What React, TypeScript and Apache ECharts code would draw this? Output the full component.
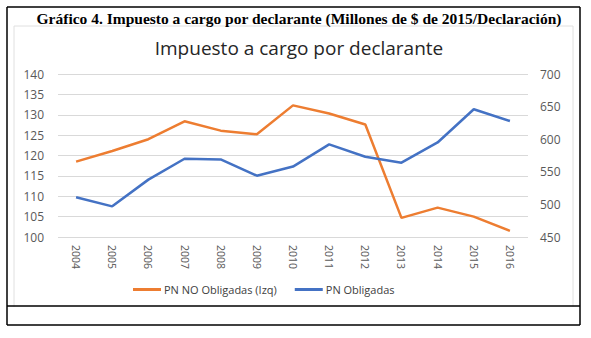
import React, { useEffect, useRef } from "react";
import * as echarts from "echarts";

const years = ["2004","2005","2006","2007","2008","2009","2010","2011","2012","2013","2014","2015","2016"];
const pnNoObligadas = [118.5, 121.1, 124.0, 128.4, 126.1, 125.2, 132.3, 130.3, 127.6, 104.7, 107.2, 105.0, 101.5];
const pnObligadas = [511, 497, 538, 570, 569, 544, 558, 592, 573, 564, 595, 646, 628];
const seriesNames = ["PN NO Obligadas (Izq)", "PN Obligadas"];
const outerTitle = "Gráfico 4. Impuesto a cargo por declarante (Millones de $ de 2015/Declaración)";
const chartTitle = "Impuesto a cargo por declarante";

export default function App() {
  const ref = useRef<HTMLDivElement>(null);
  useEffect(() => {
    const chart = echarts.init(ref.current!, null, { renderer: "svg" });
    const black = { stroke: "#000", lineWidth: 1.5 };
    chart.setOption({
      animation: false,
      backgroundColor: "#fff",
      title: [
        {
          text: outerTitle,
          left: 294,
          textAlign: "center",
          top: 5,
          textStyle: { fontFamily: "Liberation Serif", fontWeight: "bold", fontSize: 15.5, color: "#000" },
        },
        {
          text: chartTitle,
          left: 294,
          textAlign: "center",
          top: 33,
          textStyle: { fontFamily: "Open Sans", fontWeight: "normal", fontSize: 19, color: "#262626" },
        },
      ],
      graphic: [
        { type: "rect", shape: { x: 14, y: 26, width: 559, height: 290 }, style: { fill: "none", stroke: "#e0e0e0", lineWidth: 1 }, silent: true },
        { type: "line", shape: { x1: 7, y1: 7, x2: 580, y2: 7 }, style: black },
        { type: "line", shape: { x1: 7, y1: 7, x2: 7, y2: 325 }, style: black },
        { type: "line", shape: { x1: 580, y1: 7, x2: 580, y2: 325 }, style: black },
        { type: "line", shape: { x1: 7, y1: 306, x2: 580, y2: 306 }, style: black },
        { type: "line", shape: { x1: 7, y1: 325, x2: 580, y2: 325 }, style: black },
        { type: "rect", shape: { x: 8, y: 307, width: 571, height: 17 }, style: { fill: "#fff" } },
      ],
      legend: {
        top: 279,
        left: 128,
        itemWidth: 28,
        itemHeight: 3,
        itemGap: 18,
        icon: "rect",
        textStyle: { fontFamily: "Open Sans", fontSize: 11, color: "#404040", padding: [0, 0, 0, -2] },
        data: seriesNames,
      },
      grid: { left: 58, right: 63, top: 74, bottom: 101 },
      xAxis: {
        type: "category",
        data: years,
        boundaryGap: true,
        axisLine: { show: false },
        axisTick: { show: false },
        axisLabel: { rotate: -90, fontFamily: "Open Sans", fontSize: 10.5, color: "#595959", margin: 8 },
      },
      yAxis: [
        {
          type: "value",
          min: 100,
          max: 140,
          interval: 5,
          axisLine: { show: false },
          axisTick: { show: false },
          splitLine: { lineStyle: { color: "#d9d9d9", width: 1 } },
          axisLabel: { fontFamily: "Open Sans", fontSize: 12, color: "#595959", margin: 14 },
        },
        {
          type: "value",
          min: 450,
          max: 700,
          interval: 50,
          axisLine: { show: false },
          axisTick: { show: false },
          splitLine: { show: false },
          axisLabel: { fontFamily: "Open Sans", fontSize: 12, color: "#595959", margin: 12 },
        },
      ],
      series: [
        {
          name: seriesNames[0],
          type: "line",
          yAxisIndex: 0,
          data: pnNoObligadas,
          symbol: "none",
          lineStyle: { color: "#ED7D31", width: 2.5 },
          itemStyle: { color: "#ED7D31" },
        },
        {
          name: seriesNames[1],
          type: "line",
          yAxisIndex: 1,
          data: pnObligadas,
          symbol: "none",
          lineStyle: { color: "#4472C4", width: 2.5 },
          itemStyle: { color: "#4472C4" },
        },
      ],
    });
    return () => chart.dispose();
  }, []);
  return (
    <div style={{ position: "absolute", left: 0, top: 0, width: 591, height: 338 }}>
      <div ref={ref} style={{ width: 591, height: 338 }} />
    </div>
  );
}
